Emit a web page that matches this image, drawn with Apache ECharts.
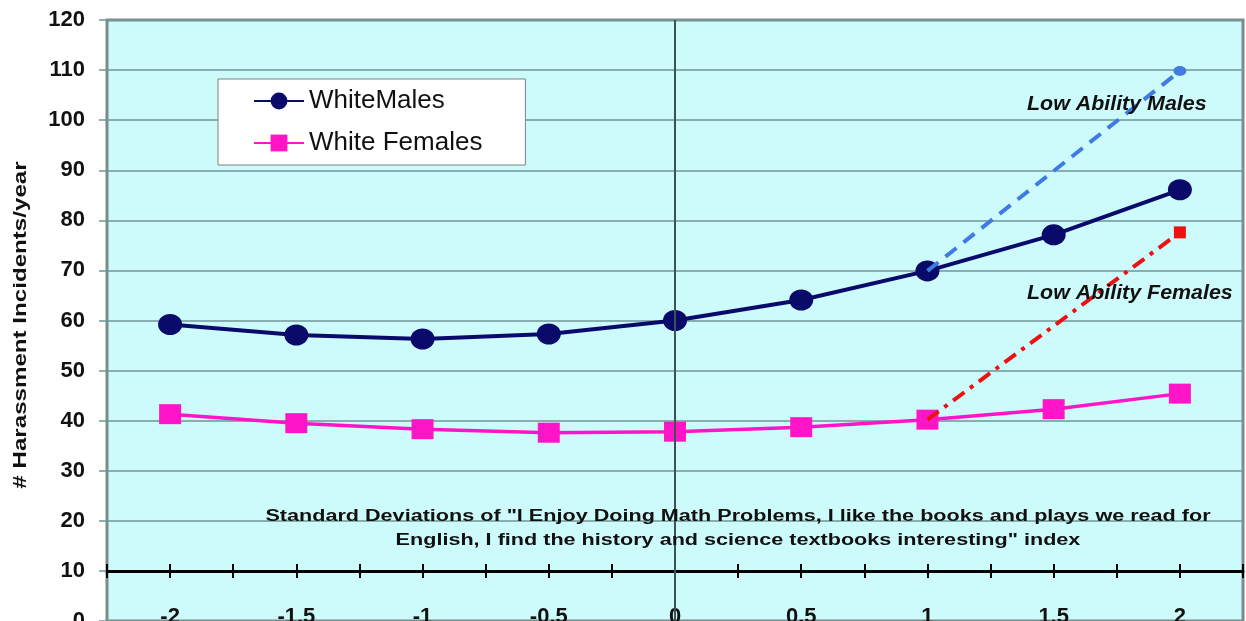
<!DOCTYPE html>
<html>
<head>
<meta charset="utf-8">
<script src="https://cdn.jsdelivr.net/npm/echarts@6/dist/echarts.min.js"></script>
<style>
html,body{margin:0;padding:0;background:#fff;}
#c{width:1246px;height:621px;}
</style>
</head>
<body>
<div id="c"></div>
<script>
// Data
const xValues = [-2, -1.5, -1, -0.5, 0, 0.5, 1, 1.5, 2];
const whiteMales = [59.2, 57.1, 56.3, 57.3, 60.0, 64.1, 69.9, 77.1, 86.1];
const whiteFemales = [41.3, 39.5, 38.3, 37.6, 37.8, 38.7, 40.2, 42.3, 45.4];
const lowAbilityMalesX = [1, 2];
const lowAbilityMales = [69.9, 109.8];
const lowAbilityFemalesX = [1, 2];
const lowAbilityFemales = [40.2, 77.6];
const yTicks = [0, 120, 10];
const seriesNames = ['WhiteMales', 'White Females'];
const annotationTexts = ['Low Ability Males', 'Low Ability Females'];
const xAxisTitleLines = ['Standard Deviations of "I Enjoy Doing Math Problems, I like the books and plays we read for', 'English, I find the history and science textbooks interesting" index'];
const yAxisTitle = '# Harassment Incidents/year';

const pairs = (xs, ys) => xs.map((x, i) => [x, ys[i]]);

const chart = echarts.init(document.getElementById('c'), null, {renderer: 'canvas'});
const FONT = '"Liberation Sans", Arial, sans-serif';
const gridColor = '#6f9696';

const option = {
  animation: false,
  backgroundColor: '#ffffff',
  textStyle: {fontFamily: FONT},
  grid: [
    {left: 107, right: 3, top: 20, bottom: 0, containLabel: false, outerBoundsMode: 'none',
      show: true, backgroundColor: '#cdfbfb', borderColor: '#7f8a8a', borderWidth: 3},
    {left: 107, right: 3, top: 20, bottom: 50, containLabel: false, outerBoundsMode: 'none', show: false}
  ],
  legend: {
    data: seriesNames,
    orient: 'vertical',
    left: 218, top: 79,
    padding: [9, 43, 9, 35],
    itemGap: 16,
    itemWidth: 50, itemHeight: 21,
    backgroundColor: '#ffffff',
    borderColor: '#808080', borderWidth: 1,
    textStyle: {fontFamily: FONT, fontSize: 26, color: '#111'}
  },
  xAxis: [
    {gridIndex: 0, type: 'value', min: -2.25, max: 2.25, show: false},
    {gridIndex: 1, type: 'value', position: 'bottom', min: -2.25, max: 2.25, interval: 0.25,
      axisLine: {show: true, onZero: false, lineStyle: {color: '#000', width: 3}},
      axisTick: {show: true, inside: false, length: 7, lineStyle: {color: '#000', width: 2}},
      axisLabel: {show: true, margin: 35, fontSize: 22, fontWeight: 'bold', color: '#111', fontFamily: FONT,
        formatter: v => (Math.abs(v * 2 - Math.round(v * 2)) < 1e-9 && Math.abs(v) <= 2) ? String(v) : ''},
      splitLine: {show: false}},
    {gridIndex: 1, type: 'value', position: 'bottom', min: -2.25, max: 2.25, interval: 0.25,
      axisLine: {show: false, onZero: false},
      axisTick: {show: true, inside: true, length: 7, lineStyle: {color: '#000', width: 2}},
      axisLabel: {show: false}, splitLine: {show: false}}
  ],
  yAxis: [
    {gridIndex: 0, type: 'value', min: yTicks[0], max: yTicks[1], interval: yTicks[2],
      axisLine: {show: false, onZero: false},
      axisTick: {show: true, length: 8, lineStyle: {color: gridColor, width: 1.5}},
      axisLabel: {fontSize: 22, fontWeight: 'bold', color: '#111', margin: 22, fontFamily: FONT},
      splitLine: {show: true, lineStyle: {color: gridColor, width: 1.5}}},
    {gridIndex: 1, type: 'value', min: 10, max: 120, show: false}
  ],
  series: [
    {name: 'Low Ability Males (line)', type: 'line', xAxisIndex: 0, yAxisIndex: 0,
      data: pairs(lowAbilityMalesX, lowAbilityMales).map((p, i) => ({value: p, symbol: i === 0 ? 'none' : 'circle', symbolSize: [13, 10]})),
      lineStyle: {color: '#3f7be0', width: 4, type: [14, 9]},
      itemStyle: {color: '#3f7be0'}, z: 3},
    {name: 'Low Ability Females (line)', type: 'line', xAxisIndex: 0, yAxisIndex: 0,
      data: pairs(lowAbilityFemalesX, lowAbilityFemales).map((p, i) => ({value: p, symbol: i === 0 ? 'none' : 'rect', symbolSize: 12})),
      lineStyle: {color: '#ee1111', width: 4, type: [14, 7, 4, 7]},
      itemStyle: {color: '#ee1111'}, z: 4},
    {name: seriesNames[0], type: 'line', xAxisIndex: 0, yAxisIndex: 0,
      data: pairs(xValues, whiteMales),
      symbol: 'circle', symbolSize: [24, 21],
      lineStyle: {color: '#0a0a6a', width: 4},
      itemStyle: {color: '#0a0a6a'}, z: 2,
      markLine: {silent: true, symbol: 'none', label: {show: false},
        lineStyle: {color: '#3d5252', width: 2, type: 'solid'},
        data: [{xAxis: 0}]}},
    {name: seriesNames[1], type: 'line', xAxisIndex: 0, yAxisIndex: 0,
      data: pairs(xValues, whiteFemales),
      symbol: 'rect', symbolSize: [22, 20],
      lineStyle: {color: '#ff14c8', width: 3.5},
      itemStyle: {color: '#ff14c8'}, z: 2}
  ],
  graphic: [
    {type: 'text', x: 21, y: 325, rotation: Math.PI / 2, scaleX: 1.27, z: 100,
      style: {text: yAxisTitle, font: 'bold 19px ' + FONT, fill: '#111', textAlign: 'center', textVerticalAlign: 'middle'}},
    {type: 'text', x: 1027, y: 104, scaleX: 1.07, z: 100,
      style: {text: annotationTexts[0], font: 'italic bold 20px ' + FONT, fill: '#111', textAlign: 'left', textVerticalAlign: 'middle'}},
    {type: 'text', x: 1027, y: 293, scaleX: 1.07, z: 100,
      style: {text: annotationTexts[1], font: 'italic bold 20px ' + FONT, fill: '#111', textAlign: 'left', textVerticalAlign: 'middle'}},
    {type: 'text', x: 738, y: 517, scaleX: 1.35, z: 100,
      style: {text: xAxisTitleLines[0], font: 'bold 16px ' + FONT, fill: '#111', textAlign: 'center', textVerticalAlign: 'middle'}},
    {type: 'text', x: 738, y: 541, scaleX: 1.35, z: 100,
      style: {text: xAxisTitleLines[1], font: 'bold 16px ' + FONT, fill: '#111', textAlign: 'center', textVerticalAlign: 'middle'}}
  ]
};
chart.setOption(option);
</script>
</body>
</html>
